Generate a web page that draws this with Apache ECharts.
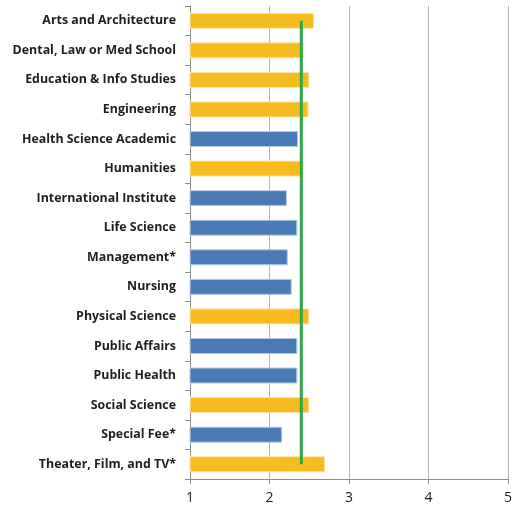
<!DOCTYPE html>
<html>
<head>
<meta charset="utf-8">
<script src="https://cdn.jsdelivr.net/npm/echarts@6/dist/echarts.min.js"></script>
<style>
  html, body { margin: 0; padding: 0; background: #fff; }
  #chart { width: 515px; height: 506px; }
</style>
</head>
<body>
<div id="chart"></div>
<script>
// Schools, listed top to bottom
const categories = [
  'Arts and Architecture',
  'Dental, Law or Med School',
  'Education & Info Studies',
  'Engineering',
  'Health Science Academic',
  'Humanities',
  'International Institute',
  'Life Science',
  'Management*',
  'Nursing',
  'Physical Science',
  'Public Affairs',
  'Public Health',
  'Social Science',
  'Special Fee*',
  'Theater, Film, and TV*'
];

// Mean score per school
const scores = [2.56, 2.43, 2.50, 2.49, 2.36, 2.43, 2.22, 2.35, 2.23, 2.28, 2.50, 2.35, 2.35, 2.50, 2.16, 2.70];

// Whether the school is above the overall average (yellow) or below (blue)
const aboveAverage = [true, true, true, true, false, true, false, false, false, false, true, false, false, true, false, true];

// Overall campus average
const overallAverage = 2.40;

// Value axis ticks
const xTicks = [1, 2, 3, 4, 5];

const YELLOW = '#F6BC1F';
const BLUE = '#4A7AB5';

const chart = echarts.init(document.getElementById('chart'), null, { renderer: 'canvas' });

chart.setOption({
  animation: false,
  grid: { left: 190, right: 5, top: 6, bottom: 27, containLabel: false },
  xAxis: {
    type: 'value',
    min: xTicks[0],
    max: xTicks[xTicks.length - 1],
    interval: 1,
    axisLine: { show: true, lineStyle: { color: '#8c8c8c', width: 1 } },
    axisTick: { show: true, length: 5, lineStyle: { color: '#8c8c8c' } },
    axisLabel: {
      color: '#222',
      fontFamily: 'Open Sans',
      fontSize: 14,
      margin: 12
    },
    splitLine: { show: true, lineStyle: { color: '#b4b4b4', width: 1 } }
  },
  yAxis: {
    type: 'category',
    inverse: true,
    data: categories,
    axisLine: { show: true, lineStyle: { color: '#8c8c8c', width: 1 } },
    axisTick: { show: true, length: 5, alignWithLabel: false, lineStyle: { color: '#8c8c8c' } },
    axisLabel: {
      color: '#1e1e1e',
      fontFamily: 'Open Sans',
      fontWeight: 'bold',
      fontSize: 12.4,
      margin: 14,
      padding: [2, 0, 0, 0]
    },
    splitLine: { show: false }
  },
  series: [
    {
      type: 'bar',
      barWidth: 16,
      data: scores.map((v, i) => ({
        value: v,
        itemStyle: {
          color: aboveAverage[i] ? YELLOW : BLUE,
          borderColor: aboveAverage[i] ? '#fbe3a6' : '#b9cbe2',
          borderWidth: 1
        }
      }))
    },
    {
      type: 'line',
      data: categories.map(() => overallAverage),
      symbol: 'none',
      lineStyle: { color: '#2BA84A', width: 3 },
      z: 5
    }
  ]
});
</script>
</body>
</html>
